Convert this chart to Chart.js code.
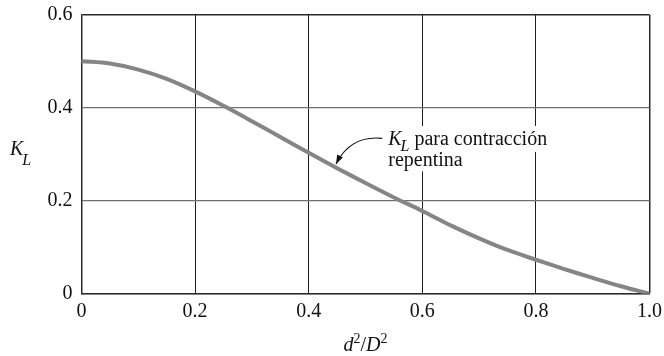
<!DOCTYPE html>
<html>
<head>
<meta charset="utf-8">
<script src="https://cdn.jsdelivr.net/npm/chart.js@4.4.1/dist/chart.umd.min.js"></script>
<style>
  html, body { margin: 0; padding: 0; background: #ffffff; }
  canvas { display: block; }
</style>
</head>
<body>
<canvas id="c" width="664" height="356"></canvas>
<script>
// ---- data ----
const dRatio = [0, 0.05, 0.10, 0.15, 0.20, 0.25, 0.30, 0.35, 0.40, 0.45, 0.50,
                0.55, 0.60, 0.65, 0.70, 0.75, 0.80, 0.85, 0.90, 0.95, 1.00];
const kLoss  = [0.500, 0.495, 0.482, 0.462, 0.435, 0.404, 0.371, 0.337, 0.303, 0.270, 0.238,
                0.207, 0.178, 0.147, 0.119, 0.094, 0.073, 0.053, 0.034, 0.016, 0.000];
const xTickValues = [0, 0.2, 0.4, 0.6, 0.8, 1.0];
const xTickLabels = ['0', '0.2', '0.4', '0.6', '0.8', '1.0'];
const yTickValues = [0, 0.2, 0.4, 0.6];
const yTickLabels = ['0', '0.2', '0.4', '0.6'];
const annotLine1 = ['K', 'L', ' para contracción'];
const annotLine2 = 'repentina';
const annotAnchor = [0.540, 0.320];   // text start (d, K)
const arrowTip = [0.448, 0.279];      // arrow tip (d, K)
const arrowCtrl = [0.474, 0.341];     // arrow curve control (d, K)
const xTitle = ['d', '2', '/', 'D', '2'];
const yTitle = ['K', 'L'];

const SERIF = '"Liberation Serif", "Times New Roman", serif';
const BORDER = '#2b2b2b';

const points = dRatio.map((d, i) => ({ x: d, y: kLoss[i] }));

const annotationPlugin = {
  id: 'annot',
  afterDraw(chart) {
    const ctx = chart.ctx;
    const xs = chart.scales.x, ys = chart.scales.y;
    const ca = chart.chartArea;
    ctx.save();
    // ---- annotation text ----
    const tx = xs.getPixelForValue(annotAnchor[0]);
    const ty = ys.getPixelForValue(annotAnchor[1]);
    const fMain = '20px ' + SERIF;
    const fIt = 'italic 20px ' + SERIF;
    const fSub = 'italic 16px ' + SERIF;
    ctx.font = fIt; const wK = ctx.measureText(annotLine1[0]).width;
    ctx.font = fSub; const wL = ctx.measureText(annotLine1[1]).width;
    ctx.font = fMain; const wRest = ctx.measureText(annotLine1[2]).width;
    const w2 = ctx.measureText(annotLine2).width;
    const lineH = 21.5;
    ctx.fillStyle = '#ffffff';
    ctx.fillRect(tx - 2, ty - 19, wK + wL + wRest + 4, 26);
    ctx.fillRect(tx - 2, ty + 3, w2 + 4, lineH + 2);
    ctx.fillStyle = '#111111';
    ctx.textBaseline = 'alphabetic';
    ctx.textAlign = 'left';
    ctx.font = fIt; ctx.fillText(annotLine1[0], tx, ty);
    ctx.font = fSub; ctx.fillText(annotLine1[1], tx + wK - 1, ty + 6);
    ctx.font = fMain; ctx.fillText(annotLine1[2], tx + wK + wL - 1, ty);
    ctx.fillText(annotLine2, tx, ty + lineH);
    // ---- arrow ----
    const sx = tx - 6, sy = ty - 6.5;
    const cx = xs.getPixelForValue(arrowCtrl[0]), cy = ys.getPixelForValue(arrowCtrl[1]);
    const ex = xs.getPixelForValue(arrowTip[0]), ey = ys.getPixelForValue(arrowTip[1]);
    ctx.strokeStyle = '#111111';
    ctx.lineWidth = 1.1;
    ctx.beginPath();
    ctx.moveTo(sx, sy);
    ctx.quadraticCurveTo(cx, cy, ex, ey);
    ctx.stroke();
    const ang = Math.atan2(ey - cy, ex - cx);
    const L = 9, Wd = 3.2;
    ctx.fillStyle = '#111111';
    ctx.beginPath();
    ctx.moveTo(ex, ey);
    ctx.lineTo(ex - L * Math.cos(ang) + Wd * Math.sin(ang), ey - L * Math.sin(ang) - Wd * Math.cos(ang));
    ctx.lineTo(ex - L * Math.cos(ang) - Wd * Math.sin(ang), ey - L * Math.sin(ang) + Wd * Math.cos(ang));
    ctx.closePath();
    ctx.fill();

    // ---- axis titles ----
    const cyMid = (ca.top + ca.bottom) / 2;
    ctx.fillStyle = '#111111';
    ctx.font = 'italic 20px ' + SERIF;
    const ykw = ctx.measureText(yTitle[0]).width;
    ctx.fillText(yTitle[0], 10, cyMid + 1);
    ctx.font = 'italic 16px ' + SERIF;
    ctx.fillText(yTitle[1], 10 + ykw - 1, cyMid + 11);
    const parts = [
      { t: xTitle[0], f: 'italic 20px ' + SERIF, dy: 0 },
      { t: xTitle[1], f: '14px ' + SERIF, dy: -8 },
      { t: xTitle[2], f: '20px ' + SERIF, dy: 0 },
      { t: xTitle[3], f: 'italic 20px ' + SERIF, dy: 0 },
      { t: xTitle[4], f: '14px ' + SERIF, dy: -8 }
    ];
    let total = 0;
    parts.forEach(p => { ctx.font = p.f; p.w = ctx.measureText(p.t).width; total += p.w; });
    let px = (ca.left + ca.right) / 2 - total / 2;
    const base = 351;
    parts.forEach(p => { ctx.font = p.f; ctx.fillText(p.t, px, base + p.dy); px += p.w; });
    ctx.restore();
  }
};

new Chart(document.getElementById('c'), {
  type: 'line',
  data: {
    datasets: [{
      data: points,
      borderColor: '#858585',
      borderWidth: 4,
      pointRadius: 0,
      fill: false,
      tension: 0.35,
      borderCapStyle: 'round'
    }]
  },
  options: {
    responsive: false,
    devicePixelRatio: 1,
    animation: false,
    events: [],
    layout: { padding: { top: 14.7, right: 14.5, left: 0, bottom: 0 } },
    plugins: { legend: { display: false }, tooltip: { enabled: false }, title: { display: false } },
    scales: {
      x: {
        type: 'linear',
        min: 0, max: 1,
        afterBuildTicks: s => { s.ticks = xTickValues.map(v => ({ value: v })); },
        afterFit: s => { s.height = 62.3; s.paddingLeft = 0; s.paddingRight = 0; },
        ticks: {
          callback: (v, i) => xTickLabels[i],
          font: { family: SERIF, size: 20 },
          color: '#111111',
          padding: 6,
          maxRotation: 0,
          autoSkip: false
        },
        grid: {
          drawTicks: false,
          color: c => (c.tick && c.tick.value === 1) ? BORDER : '#1e1e1e',
          lineWidth: c => (c.tick && c.tick.value === 1) ? 1.5 : 1
        },
        border: { display: true, color: BORDER, width: 1.5 }
      },
      y: {
        type: 'linear',
        min: 0, max: 0.6,
        afterBuildTicks: s => { s.ticks = yTickValues.map(v => ({ value: v })); },
        afterFit: s => { s.width = 81.5; s.paddingTop = 0; s.paddingBottom = 0; },
        ticks: {
          callback: (v, i) => yTickLabels[i],
          font: { family: SERIF, size: 20 },
          color: '#111111',
          padding: 9
        },
        grid: {
          drawTicks: false,
          color: c => (c.tick && c.tick.value === 0.6) ? BORDER : '#707070',
          lineWidth: c => (c.tick && c.tick.value === 0.6) ? 1.5 : 1.3
        },
        border: { display: true, color: BORDER, width: 1.5 }
      }
    }
  },
  plugins: [annotationPlugin]
});
</script>
</body>
</html>
